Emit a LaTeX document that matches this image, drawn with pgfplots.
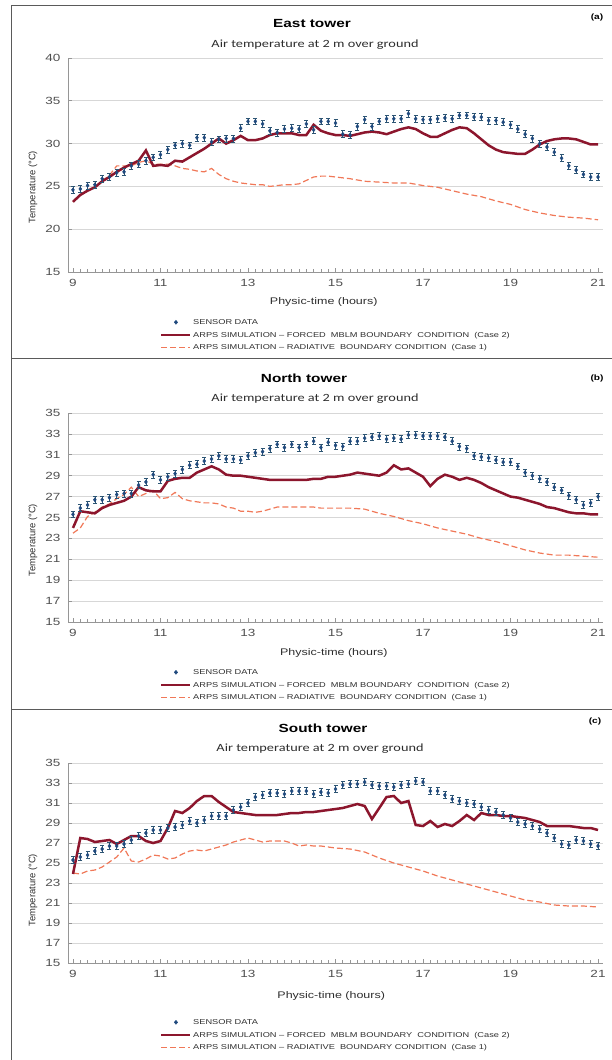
\documentclass[border=0pt]{standalone}
\usepackage{fontspec}
\setmainfont{Liberation Sans}[FakeStretch=1.3]
\newfontfamily\plainsans{Liberation Sans}
\newfontfamily\calib{Carlito}[FakeStretch=1.3]
\usepackage{pgfplots}
\usepackage{pgfplotstable}
\pgfplotsset{compat=1.18}

\definecolor{simred}{RGB}{140,22,45}
\definecolor{radorange}{RGB}{240,120,88}
\definecolor{sensorblue}{RGB}{31,73,125}
\definecolor{errblue}{RGB}{45,85,115}
\definecolor{gridgray}{RGB}{215,215,215}
\definecolor{axisgray}{RGB}{150,150,150}
\definecolor{tickgray}{RGB}{80,80,80}
\definecolor{labgray}{RGB}{45,45,45}
\definecolor{framegray}{RGB}{90,90,90}

% sensor data, every 10 min
\pgfplotstableread{
t east north south
9.000 24.6 25.3 25.3
9.167 24.7 25.9 25.6
9.333 25.1 26.2 25.8
9.500 25.2 26.7 26.2
9.667 25.9 26.7 26.4
9.833 26.1 26.9 26.7
10.000 26.6 27.2 26.7
10.167 26.7 27.3 26.9
10.333 27.4 27.3 27.3
10.500 27.6 28.1 27.7
10.667 28.0 28.4 28.0
10.833 28.4 29.1 28.3
11.000 28.7 28.6 28.3
11.167 29.3 28.9 28.5
11.333 29.8 29.2 28.6
11.500 30.0 29.6 28.8
11.667 29.8 30.0 29.2
11.833 30.7 30.1 29.0
12.000 30.7 30.4 29.3
12.167 30.2 30.6 29.7
12.333 30.5 30.9 29.7
12.500 30.6 30.6 29.7
12.667 30.6 30.6 30.3
12.833 31.8 30.5 30.6
13.000 32.6 30.9 31.0
13.167 32.6 31.2 31.6
13.333 32.3 31.3 31.8
13.500 31.5 31.6 32.0
13.667 31.3 32.0 32.0
13.833 31.7 31.7 31.9
14.000 31.8 32.0 32.2
14.167 31.7 31.7 32.2
14.333 32.3 32.0 32.2
14.500 31.6 32.3 31.9
14.667 32.6 31.7 32.1
14.833 32.6 32.2 32.0
15.000 32.4 31.9 32.4
15.167 31.1 31.8 32.8
15.333 31.0 32.3 32.9
15.500 32.0 32.3 32.9
15.667 32.8 32.6 33.1
15.833 32.0 32.7 32.8
16.000 32.6 32.8 32.7
16.167 32.9 32.5 32.7
16.333 32.9 32.6 32.6
16.500 32.9 32.5 32.8
16.667 33.5 32.9 32.9
16.833 32.9 32.9 33.2
17.000 32.8 32.8 33.1
17.167 32.8 32.8 32.2
17.333 32.9 32.8 32.2
17.500 33.0 32.7 31.8
17.667 32.9 32.3 31.4
17.833 33.3 31.8 31.2
18.000 33.3 31.6 31.0
18.167 33.1 30.9 30.9
18.333 33.1 30.8 30.6
18.500 32.7 30.7 30.3
18.667 32.7 30.5 30.1
18.833 32.5 30.3 29.8
19.000 32.2 30.3 29.5
19.167 31.7 29.9 29.1
19.333 31.1 29.3 28.9
19.500 30.6 29.0 28.7
19.667 30.0 28.7 28.4
19.833 29.6 28.4 28.0
20.000 29.0 27.9 27.5
20.167 28.3 27.6 26.9
20.333 27.4 27.1 26.8
20.500 26.9 26.7 27.3
20.667 26.4 26.2 27.2
20.833 26.1 26.4 26.9
21.000 26.1 27.0 26.7
}\sensor

% ARPS, forced MBLM boundary condition (case 2)
\pgfplotstableread{
t east north south
9.000 23.2 24.0 23.9
9.167 24.0 25.6 27.5
9.333 24.5 25.5 27.4
9.500 24.9 25.4 27.1
9.667 25.6 25.9 27.2
9.833 26.1 26.2 27.3
10.000 26.7 26.4 26.9
10.167 27.2 26.6 27.3
10.333 27.6 27.0 27.7
10.500 28.0 27.9 27.7
10.667 29.2 27.6 27.2
10.833 27.4 27.5 27.0
11.000 27.5 27.5 27.2
11.167 27.4 28.5 28.5
11.333 28.0 28.7 30.2
11.500 27.9 28.8 30.0
11.667 28.4 28.8 30.5
11.833 28.9 29.3 31.2
12.000 29.4 29.6 31.7
12.167 30.0 29.9 31.7
12.333 30.6 29.6 31.1
12.500 30.0 29.1 30.6
12.667 30.4 29.0 30.1
12.833 30.9 29.0 30.0
13.000 30.4 28.9 29.9
13.167 30.4 28.8 29.8
13.333 30.6 28.7 29.8
13.500 31.0 28.6 29.8
13.667 31.2 28.6 29.8
13.833 31.2 28.6 29.9
14.000 31.2 28.6 30.0
14.167 31.0 28.6 30.0
14.333 31.0 28.6 30.1
14.500 32.2 28.7 30.1
14.667 31.5 28.7 30.2
14.833 31.2 28.9 30.3
15.000 31.0 28.9 30.4
15.167 31.0 29.0 30.5
15.333 30.9 29.1 30.7
15.500 31.1 29.3 30.9
15.667 31.3 29.2 30.7
15.833 31.4 29.1 29.4
16.000 31.3 29.0 30.5
16.167 31.1 29.3 31.6
16.333 31.4 30.0 31.7
16.500 31.7 29.6 31.0
16.667 31.9 29.7 31.2
16.833 31.7 29.3 28.8
17.000 31.2 28.9 28.7
17.167 30.8 28.0 29.2
17.333 30.8 28.7 28.6
17.500 31.2 29.1 28.9
17.667 31.6 28.9 28.7
17.833 31.9 28.6 29.2
18.000 31.8 28.8 29.8
18.167 31.2 28.6 29.3
18.333 30.5 28.3 30.0
18.500 29.8 27.9 29.8
18.667 29.3 27.6 29.8
18.833 29.0 27.3 29.7
19.000 28.9 27.0 29.7
19.167 28.8 26.9 29.6
19.333 28.8 26.7 29.5
19.500 29.3 26.5 29.3
19.667 29.9 26.3 29.1
19.833 30.3 26.0 28.7
20.000 30.5 25.9 28.7
20.167 30.6 25.7 28.7
20.333 30.6 25.5 28.7
20.500 30.5 25.4 28.6
20.667 30.2 25.4 28.5
20.833 29.9 25.3 28.5
21.000 29.9 25.3 28.3
}\forced

% ARPS, radiative boundary condition (case 1)
\pgfplotstableread{
t east north south
9.000 23.2 23.5 24.0
9.167 24.0 24.0 23.9
9.333 24.5 25.1 24.2
9.500 24.9 25.5 24.3
9.667 25.6 26.0 24.6
9.833 26.3 26.3 25.1
10.000 27.4 26.8 25.6
10.167 27.4 27.2 26.5
10.333 27.4 27.9 25.2
10.500 27.8 27.0 25.1
10.667 28.0 27.3 25.4
10.833 27.6 27.6 25.8
11.000 27.6 26.8 25.7
11.167 27.6 26.9 25.4
11.333 27.4 27.4 25.5
11.500 27.1 26.8 25.9
11.667 27.0 26.6 26.2
11.833 26.8 26.5 26.3
12.000 26.7 26.4 26.2
12.167 27.1 26.4 26.4
12.333 26.4 26.3 26.6
12.500 25.9 26.0 26.8
12.667 25.6 25.9 27.1
12.833 25.4 25.6 27.3
13.000 25.3 25.6 27.5
13.167 25.2 25.5 27.3
13.333 25.2 25.6 27.1
13.500 25.0 25.8 27.2
13.667 25.1 26.0 27.2
13.833 25.2 26.0 27.2
14.000 25.2 26.0 27.0
14.167 25.3 26.0 26.7
14.333 25.7 26.0 26.8
14.500 26.1 26.0 26.7
14.667 26.2 25.9 26.7
14.833 26.2 25.9 26.6
15.000 26.1 25.9 26.5
15.333 25.9 25.9 26.4
15.667 25.6 25.8 26.1
16.000 25.5 25.4 25.5
16.333 25.4 25.1 25.0
16.667 25.4 24.7 24.6
17.000 25.1 24.4 24.2
17.333 24.9 24.0 23.7
17.667 24.5 23.7 23.3
18.000 24.1 23.4 22.9
18.333 23.8 23.0 22.5
18.667 23.3 22.7 22.1
19.000 22.9 22.3 21.7
19.333 22.3 21.9 21.3
19.667 21.9 21.6 21.1
20.000 21.6 21.4 20.8
20.333 21.4 21.4 20.7
20.667 21.3 21.3 20.7
21.000 21.1 21.2 20.6
}\radiative

\pgfplotsset{
  tower/.style={
    scale only axis, width=535pt,
    xmin=8.886, xmax=21.114, ymin=15,
    axis x line*=bottom, axis y line*=left,
    xtick={9,11,...,21}, minor x tick num=11,
    ymajorgrids, major grid style={gridgray, line width=0.8pt},
    axis line style={axisgray, line width=0.8pt},
    every tick/.style={axisgray, line width=0.7pt},
    tick align=inside, major tick length=4pt, minor tick length=3pt,
    tick label style={font=\fontsize{10.4}{11}\selectfont, text=tickgray},
    /pgf/number format/assume math mode=true,
    xticklabel style={yshift=-4pt},
    yticklabel style={xshift=-4pt},
    xlabel={Physic-time (hours)},
    xlabel style={font=\fontsize{9.6}{10}\selectfont, text=labgray, anchor=center},
    ylabel={Temperature (°C)},
    ylabel style={font=\plainsans\fontsize{9.4}{10}\selectfont, text=labgray, anchor=center},
    legend style={at={(axis description cs:0,0)}, anchor=north west,
      xshift=92pt, draw=none, fill=none, inner sep=0pt,
      row sep=4.4pt, column sep=0.5pt,
      font=\fontsize{7.1}{7.5}\selectfont, text=labgray,
      nodes={inner sep=1pt, text height=5.2pt, text depth=1pt}},
    legend cell align=left, reverse legend,
    legend entries={ARPS SIMULATION -- RADIATIVE\ \ BOUNDARY CONDITION\ \ (Case 1),
      ARPS SIMULATION -- FORCED\ \ MBLM BOUNDARY\ \ CONDITION\ \ (Case 2),
      SENSOR DATA},
  },
  radline/.style={radorange, line width=1.2pt, dash pattern=on 6pt off 3pt,
    legend image code/.code={\draw[##1] (0pt,0pt) -- (29pt,0pt);}},
  forcedline/.style={simred, line width=2.5pt,
    legend image code/.code={\draw[##1] (0pt,0pt) -- (29pt,0pt);}},
  sensorpts/.style={only marks, mark=diamond*, mark size=2pt,
    color=sensorblue, mark options={fill=sensorblue},
    error bars/.cd, y dir=both, y fixed=#1,
    error bar style={errblue, line width=0.7pt},
    error mark options={rotate=90, errblue, mark size=2pt, line width=0.7pt},
    /pgfplots/.cd,
    legend image code/.code={\fill[sensorblue] (14.5pt,2pt) -- (16.2pt,0pt) -- (14.5pt,-2pt) -- (12.8pt,0pt) -- cycle;}},
}

\begin{document}
\begin{tikzpicture}
% (a) East tower
\begin{axis}[tower, at={(68pt,-272pt)}, anchor=south west,
    height=214pt, ymax=40, ytick={15,20,...,40},
    xlabel style={at={(axis description cs:0.478,0)}, yshift=-30pt},
    ylabel style={at={(axis description cs:-0.0654,0.397)}},
    legend style={yshift=-46pt}]
\addplot[radline] table[x=t, y=east] {\radiative};
\addplot[forcedline] table[x=t, y=east] {\forced};
\addplot[sensorpts=0.4] table[x=t, y=east] {\sensor};
\end{axis}

% (b) North tower
\begin{axis}[tower, at={(68pt,-622pt)}, anchor=south west,
    height=209pt, ymax=35, ytick={15,17,...,35},
    xlabel style={at={(axis description cs:0.497,0)}, yshift=-31pt},
    ylabel style={at={(axis description cs:-0.0654,0.392)}},
    legend style={yshift=-46pt}]
\addplot[radline] table[x=t, y=north] {\radiative};
\addplot[forcedline] table[x=t, y=north] {\forced};
\addplot[sensorpts=0.33] table[x=t, y=north] {\sensor};
\end{axis}

% (c) South tower
\begin{axis}[tower, at={(68pt,-963pt)}, anchor=south west,
    height=200pt, ymax=35, ytick={15,17,...,35},
    xlabel style={at={(axis description cs:0.492,0)}, yshift=-33pt},
    ylabel style={at={(axis description cs:-0.0654,0.365)}},
    legend style={yshift=-55pt}]
\addplot[radline] table[x=t, y=south] {\radiative};
\addplot[forcedline] table[x=t, y=south] {\forced};
\addplot[sensorpts=0.33] table[x=t, y=south] {\sensor};
\end{axis}

% titles
\node[font=\bfseries\fontsize{11.8}{12}\selectfont] at (312pt,-23pt) {East tower};
\node[font=\bfseries\fontsize{11.8}{12}\selectfont] at (304pt,-378pt) {North tower};
\node[font=\bfseries\fontsize{11.8}{12}\selectfont] at (323pt,-728pt) {South tower};
\node[font=\calib\fontsize{11}{12}\selectfont, text=labgray] at (315pt,-45pt) {Air temperature at 2 m over ground};
\node[font=\calib\fontsize{11}{12}\selectfont, text=labgray] at (315pt,-399pt) {Air temperature at 2 m over ground};
\node[font=\calib\fontsize{11}{12}\selectfont, text=labgray] at (320pt,-749pt) {Air temperature at 2 m over ground};
\node[font=\bfseries\fontsize{7.8}{8}\selectfont] at (597pt,-17pt) {(a)};
\node[font=\bfseries\fontsize{7.8}{8}\selectfont] at (597pt,-378pt) {(b)};
\node[font=\bfseries\fontsize{7.8}{8}\selectfont] at (595pt,-721pt) {(c)};

% panel frames
\draw[framegray, line width=0.9pt] (700pt,-5pt) -- (11pt,-5pt) -- (11pt,-1100pt);
\draw[framegray, line width=0.9pt] (11pt,-358pt) -- (700pt,-358pt);
\draw[framegray, line width=0.9pt] (11pt,-709pt) -- (700pt,-709pt);

\pgfresetboundingbox
\useasboundingbox (0pt,0pt) rectangle (612pt,-1060pt);
\end{tikzpicture}
\end{document}
